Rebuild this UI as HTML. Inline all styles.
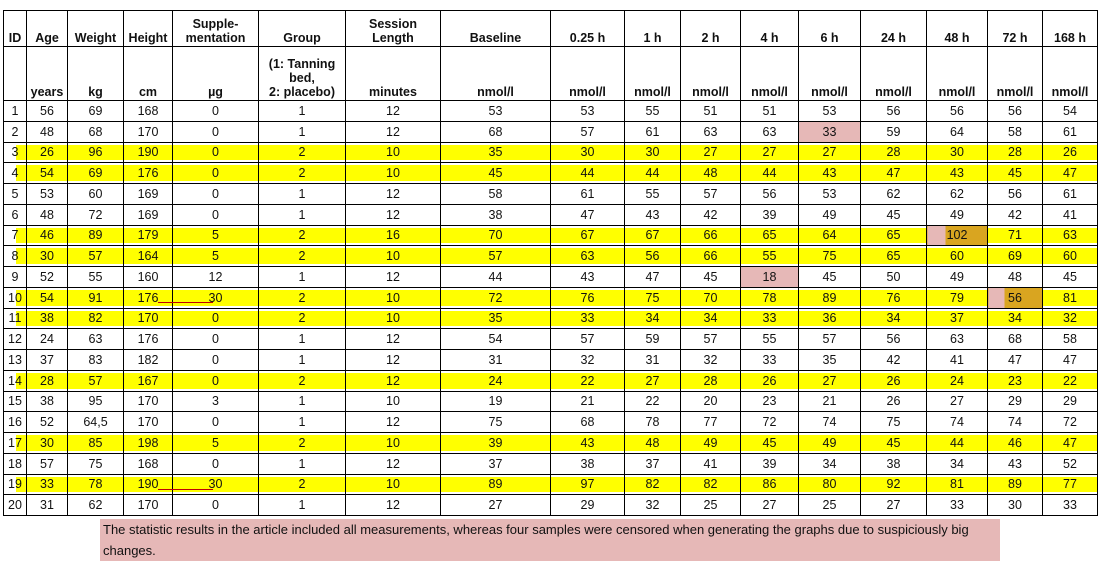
<!DOCTYPE html>
<html><head><meta charset="utf-8"><style>
body{margin:0;width:1101px;height:569px;background:#fff;position:relative;overflow:hidden;font-family:"Liberation Sans",sans-serif;}
table{position:absolute;left:3px;top:10px;border-collapse:collapse;table-layout:fixed;font-size:12.5px;color:#111;}
td{border:1px solid #000;text-align:center;padding:0;height:19.75px;line-height:14px;white-space:nowrap;}
tr.h1 td{height:34px;vertical-align:bottom;font-weight:bold;font-size:12.5px;padding-bottom:1px}
tr.h2 td{height:52px;vertical-align:bottom;font-weight:bold;font-size:12.5px;padding-bottom:1px}
tr.y td{background:linear-gradient(#ffff00,#ffff00) no-repeat center/100% 80%;}
tr.y td:first-child{background:linear-gradient(#ffff00,#ffff00) no-repeat right center/45% 80%;}
td.p{background:#e6b8b7 !important;}
td.o{background:linear-gradient(90deg,#e6b8b7 0 30%,#d9a520 30% 100%) !important;}
.note{position:absolute;left:100px;top:519px;width:900px;height:42px;background:#e6b8b7;font-size:13px;line-height:21px;color:#111;padding-left:3px;box-sizing:border-box;}
.ul{position:absolute;height:1px;background:#c00000;}
</style></head><body>
<table>
<colgroup>
<col style="width:23px"><col style="width:41px"><col style="width:56px"><col style="width:49px"><col style="width:86px"><col style="width:87px"><col style="width:95px"><col style="width:110px"><col style="width:74px"><col style="width:56px"><col style="width:60px"><col style="width:58px"><col style="width:62px"><col style="width:66px"><col style="width:61px"><col style="width:55px"><col style="width:55px">
</colgroup>
<tr class="h1"><td>ID</td><td>Age</td><td>Weight</td><td>Height</td><td>Supple-<br>mentation</td><td>Group</td><td>Session<br>Length</td><td>Baseline</td><td>0.25 h</td><td>1 h</td><td>2 h</td><td>4 h</td><td>6 h</td><td>24 h</td><td>48 h</td><td>72 h</td><td>168 h</td></tr>
<tr class="h2"><td></td><td>years</td><td>kg</td><td>cm</td><td>µg</td><td>(1: Tanning<br>bed,<br>2: placebo)</td><td>minutes</td><td>nmol/l</td><td>nmol/l</td><td>nmol/l</td><td>nmol/l</td><td>nmol/l</td><td>nmol/l</td><td>nmol/l</td><td>nmol/l</td><td>nmol/l</td><td>nmol/l</td></tr>
<tr><td>1</td><td>56</td><td>69</td><td>168</td><td>0</td><td>1</td><td>12</td><td>53</td><td>53</td><td>55</td><td>51</td><td>51</td><td>53</td><td>56</td><td>56</td><td>56</td><td>54</td></tr>
<tr><td>2</td><td>48</td><td>68</td><td>170</td><td>0</td><td>1</td><td>12</td><td>68</td><td>57</td><td>61</td><td>63</td><td>63</td><td class="p">33</td><td>59</td><td>64</td><td>58</td><td>61</td></tr>
<tr class="y"><td>3</td><td>26</td><td>96</td><td>190</td><td>0</td><td>2</td><td>10</td><td>35</td><td>30</td><td>30</td><td>27</td><td>27</td><td>27</td><td>28</td><td>30</td><td>28</td><td>26</td></tr>
<tr class="y"><td>4</td><td>54</td><td>69</td><td>176</td><td>0</td><td>2</td><td>10</td><td>45</td><td>44</td><td>44</td><td>48</td><td>44</td><td>43</td><td>47</td><td>43</td><td>45</td><td>47</td></tr>
<tr><td>5</td><td>53</td><td>60</td><td>169</td><td>0</td><td>1</td><td>12</td><td>58</td><td>61</td><td>55</td><td>57</td><td>56</td><td>53</td><td>62</td><td>62</td><td>56</td><td>61</td></tr>
<tr><td>6</td><td>48</td><td>72</td><td>169</td><td>0</td><td>1</td><td>12</td><td>38</td><td>47</td><td>43</td><td>42</td><td>39</td><td>49</td><td>45</td><td>49</td><td>42</td><td>41</td></tr>
<tr class="y"><td>7</td><td>46</td><td>89</td><td>179</td><td>5</td><td>2</td><td>16</td><td>70</td><td>67</td><td>67</td><td>66</td><td>65</td><td>64</td><td>65</td><td class="o">102</td><td>71</td><td>63</td></tr>
<tr class="y"><td>8</td><td>30</td><td>57</td><td>164</td><td>5</td><td>2</td><td>10</td><td>57</td><td>63</td><td>56</td><td>66</td><td>55</td><td>75</td><td>65</td><td>60</td><td>69</td><td>60</td></tr>
<tr><td>9</td><td>52</td><td>55</td><td>160</td><td>12</td><td>1</td><td>12</td><td>44</td><td>43</td><td>47</td><td>45</td><td class="p">18</td><td>45</td><td>50</td><td>49</td><td>48</td><td>45</td></tr>
<tr class="y"><td>10</td><td>54</td><td>91</td><td>176</td><td>30</td><td>2</td><td>10</td><td>72</td><td>76</td><td>75</td><td>70</td><td>78</td><td>89</td><td>76</td><td>79</td><td class="o">56</td><td>81</td></tr>
<tr class="y"><td>11</td><td>38</td><td>82</td><td>170</td><td>0</td><td>2</td><td>10</td><td>35</td><td>33</td><td>34</td><td>34</td><td>33</td><td>36</td><td>34</td><td>37</td><td>34</td><td>32</td></tr>
<tr><td>12</td><td>24</td><td>63</td><td>176</td><td>0</td><td>1</td><td>12</td><td>54</td><td>57</td><td>59</td><td>57</td><td>55</td><td>57</td><td>56</td><td>63</td><td>68</td><td>58</td></tr>
<tr><td>13</td><td>37</td><td>83</td><td>182</td><td>0</td><td>1</td><td>12</td><td>31</td><td>32</td><td>31</td><td>32</td><td>33</td><td>35</td><td>42</td><td>41</td><td>47</td><td>47</td></tr>
<tr class="y"><td>14</td><td>28</td><td>57</td><td>167</td><td>0</td><td>2</td><td>12</td><td>24</td><td>22</td><td>27</td><td>28</td><td>26</td><td>27</td><td>26</td><td>24</td><td>23</td><td>22</td></tr>
<tr><td>15</td><td>38</td><td>95</td><td>170</td><td>3</td><td>1</td><td>10</td><td>19</td><td>21</td><td>22</td><td>20</td><td>23</td><td>21</td><td>26</td><td>27</td><td>29</td><td>29</td></tr>
<tr><td>16</td><td>52</td><td>64,5</td><td>170</td><td>0</td><td>1</td><td>12</td><td>75</td><td>68</td><td>78</td><td>77</td><td>72</td><td>74</td><td>75</td><td>74</td><td>74</td><td>72</td></tr>
<tr class="y"><td>17</td><td>30</td><td>85</td><td>198</td><td>5</td><td>2</td><td>10</td><td>39</td><td>43</td><td>48</td><td>49</td><td>45</td><td>49</td><td>45</td><td>44</td><td>46</td><td>47</td></tr>
<tr><td>18</td><td>57</td><td>75</td><td>168</td><td>0</td><td>1</td><td>12</td><td>37</td><td>38</td><td>37</td><td>41</td><td>39</td><td>34</td><td>38</td><td>34</td><td>43</td><td>52</td></tr>
<tr class="y"><td>19</td><td>33</td><td>78</td><td>190</td><td>30</td><td>2</td><td>10</td><td>89</td><td>97</td><td>82</td><td>82</td><td>86</td><td>80</td><td>92</td><td>81</td><td>89</td><td>77</td></tr>
<tr><td>20</td><td>31</td><td>62</td><td>170</td><td>0</td><td>1</td><td>12</td><td>27</td><td>29</td><td>32</td><td>25</td><td>27</td><td>25</td><td>27</td><td>33</td><td>30</td><td>33</td></tr>
</table>
<div class="ul" style="left:158px;top:302px;width:55px"></div>
<div class="ul" style="left:158px;top:489px;width:55px"></div>
<div class="note">The statistic results in the article included all measurements, whereas four samples were censored when generating the graphs due to suspiciously big<br>changes.</div>
</body></html>
